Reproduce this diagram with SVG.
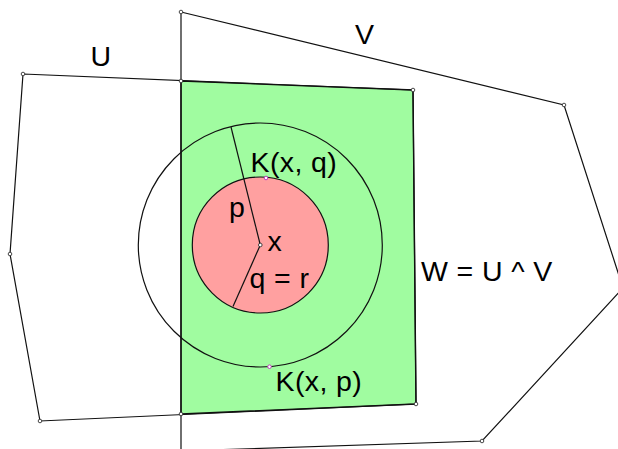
<svg xmlns="http://www.w3.org/2000/svg" width="618" height="449" viewBox="0 0 618 449">
<style>
.ln{fill:none;stroke:#111;stroke-width:1.2}
.pt{fill:#fff;stroke:#333;stroke-width:0.9}
.mp{fill:#fff;stroke:#c040c0;stroke-width:1}
text{font-family:"Liberation Sans",Arial,sans-serif;font-size:28.5px;letter-spacing:0.4px;fill:#000}
</style>
<rect width="618" height="449" fill="#fff"/>
<g id="W">
<polygon points="181,81 413,90 416,404 181,414" fill="#a0fca0" stroke="#111" stroke-width="1.4"/>
</g>
<g id="Kq">
<circle cx="260.3" cy="245" r="68" fill="#ffa0a0" stroke="#111" stroke-width="1.2"/>
</g>
<g id="Kp">
<circle cx="260.3" cy="245" r="122" class="ln"/>
</g>
<g id="U">
<polygon points="23,74 413,90 416,404 40,421 10,254" class="ln"/>
</g>
<g id="V">
<polygon points="181,12 564,105 623,288 482,441 181,451" class="ln"/>
</g>
<g id="connectors">
<line x1="260.3" y1="245" x2="231" y2="127" class="ln"/>
<line x1="260.3" y1="245" x2="233" y2="306.5" class="ln"/>
</g>
<g id="points">
<circle cx="181" cy="12" r="1.8" class="pt"/>
<circle cx="23" cy="74" r="1.8" class="pt"/>
<circle cx="181" cy="81" r="1.8" class="pt"/>
<circle cx="413" cy="90" r="1.8" class="pt"/>
<circle cx="564" cy="105" r="1.8" class="pt"/>
<circle cx="10" cy="254" r="1.8" class="pt"/>
<circle cx="416" cy="404" r="1.8" class="pt"/>
<circle cx="181" cy="414" r="1.8" class="pt"/>
<circle cx="40" cy="421" r="1.8" class="pt"/>
<circle cx="482" cy="441" r="1.8" class="pt"/>
<circle cx="260.3" cy="245" r="1.8" class="pt"/>
<circle cx="266" cy="178" r="1.8" class="mp"/>
<circle cx="269.5" cy="366.7" r="1.8" class="mp"/>
</g>
<g id="labels">
<text x="90.5" y="65.5">U</text>
<text x="355" y="43.5">V</text>
<text x="421" y="281">W = U ^ V</text>
<text x="250.5" y="171.5">K(x, q)</text>
<text x="275.5" y="391">K(x, p)</text>
<text x="229" y="217">p</text>
<text x="267.5" y="251">x</text>
<text x="249.5" y="287.5">q = r</text>
</g>
</svg>
